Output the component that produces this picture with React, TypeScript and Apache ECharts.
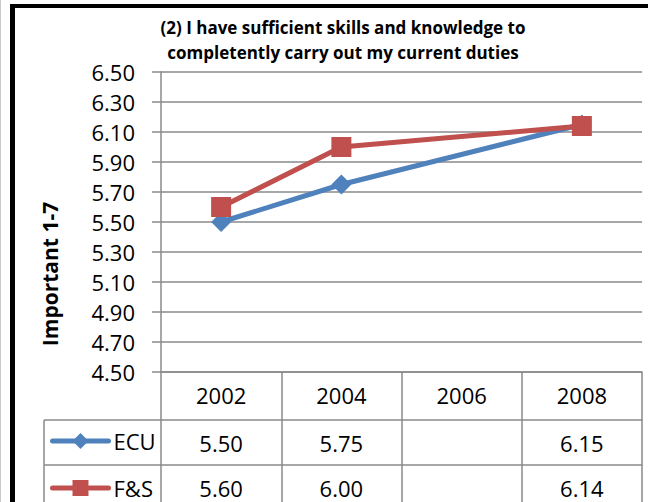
import React, { useEffect, useRef } from 'react';
import * as echarts from 'echarts';

const years = ['2002', '2004', '2006', '2008'];
const ecuValues: (number | null)[] = [5.5, 5.75, null, 6.15];
const fsValues: (number | null)[] = [5.6, 6.0, null, 6.14];
const seriesNames = ['ECU', 'F&S'];
const titleLines = ['(2) I have sufficient skills and knowledge to', 'completently carry out my current duties'];
const yTitle = 'Important 1-7';
const yMin = 4.5;
const yMax = 6.5;
const yStep = 0.2;

const FONT = '"Open Sans", sans-serif';
const GRAY = '#8a8a8a';
const BLUE = '#4F81BD';
const RED = '#C0504D';

const fmt = (v: number | null) => (v == null ? '' : v.toFixed(2));

export default function App() {
  const ref = useRef<HTMLDivElement>(null);
  useEffect(() => {
    if (!ref.current) return;
    const chart = echarts.init(ref.current, null, { renderer: 'svg' });
    const gridLine = { color: GRAY, width: 1.5 };
    const labelStyle = { fontSize: 22, color: '#000', fontFamily: FONT, margin: 12, interval: 0 };
    const legendBase = {
      orient: 'horizontal',
      left: 50,
      itemWidth: 56,
      itemHeight: 20,
      textStyle: { fontSize: 22, fontFamily: FONT, color: '#000' },
      lineStyle: { width: 5, cap: 'round' },
      padding: 0,
    };
    chart.setOption({
      animation: false,
      backgroundColor: '#fff',
      grid: { left: 161, top: 72, width: 481, height: 300, containLabel: false },
      legend: [
        { ...legendBase, top: 430, data: [seriesNames[0]] },
        { ...legendBase, top: 477, data: [seriesNames[1]] },
      ],
      xAxis: [
        {
          type: 'category',
          data: years,
          boundaryGap: true,
          position: 'bottom',
          axisLine: { show: true, lineStyle: gridLine },
          axisTick: { show: true, length: 135, interval: 0, lineStyle: gridLine },
          axisLabel: labelStyle,
          splitLine: { show: false },
        },
        {
          type: 'category',
          data: ecuValues.map(fmt),
          boundaryGap: true,
          position: 'bottom',
          offset: 48,
          axisLine: { show: true, lineStyle: gridLine },
          axisTick: { show: false },
          axisLabel: labelStyle,
        },
        {
          type: 'category',
          data: fsValues.map(fmt),
          boundaryGap: true,
          position: 'bottom',
          offset: 93,
          axisLine: { show: true, lineStyle: gridLine },
          axisTick: { show: false },
          axisLabel: labelStyle,
        },
      ],
      yAxis: {
        type: 'value',
        min: yMin,
        max: yMax,
        interval: yStep,
        axisLine: { show: true, lineStyle: gridLine },
        axisTick: { show: true, length: 9, lineStyle: gridLine },
        axisLabel: {
          fontSize: 22,
          color: '#000',
          fontFamily: FONT,
          margin: 26,
          formatter: (v: number) => v.toFixed(2),
        },
        splitLine: { show: true, lineStyle: gridLine },
      },
      series: [
        {
          name: seriesNames[0],
          type: 'line',
          data: ecuValues,
          connectNulls: true,
          symbol: 'diamond',
          symbolSize: 20,
          lineStyle: { width: 5, color: BLUE },
          itemStyle: { color: BLUE },
          z: 2,
        },
        {
          name: seriesNames[1],
          type: 'line',
          data: fsValues,
          connectNulls: true,
          symbol: 'rect',
          symbolSize: 20,
          lineStyle: { width: 5, color: RED },
          itemStyle: { color: RED },
          z: 3,
        },
      ],
      graphic: [
        { type: 'rect', shape: { x: 0, y: 0, width: 1, height: 502 }, style: { fill: '#c8c8c8' } },
        { type: 'rect', shape: { x: 10, y: 4, width: 5, height: 498 }, style: { fill: '#000' } },
        { type: 'rect', shape: { x: 10, y: 4, width: 638, height: 4 }, style: { fill: '#000' } },
        {
          type: 'text',
          x: 343,
          y: 15,
          style: {
            text: titleLines.join('\n'),
            font: `bold 17px ${FONT}`,
            lineHeight: 25,
            align: 'center',
            verticalAlign: 'top',
            fill: '#000',
          },
        },
        {
          type: 'text',
          x: 50,
          y: 274,
          rotation: Math.PI / 2,
          style: {
            text: yTitle,
            font: `bold 21px ${FONT}`,
            align: 'center',
            verticalAlign: 'middle',
            fill: '#000',
          },
        },
        { type: 'line', shape: { x1: 44, y1: 420, x2: 161, y2: 420 }, style: { stroke: GRAY, lineWidth: 1.5 } },
        { type: 'line', shape: { x1: 44, y1: 465, x2: 161, y2: 465 }, style: { stroke: GRAY, lineWidth: 1.5 } },
        { type: 'line', shape: { x1: 44, y1: 420, x2: 44, y2: 502 }, style: { stroke: GRAY, lineWidth: 1.5 } },
      ],
    });
    return () => chart.dispose();
  }, []);
  return (
    <div
      ref={ref}
      style={{ position: 'fixed', left: 0, top: 0, width: 651, height: 502 }}
    />
  );
}
